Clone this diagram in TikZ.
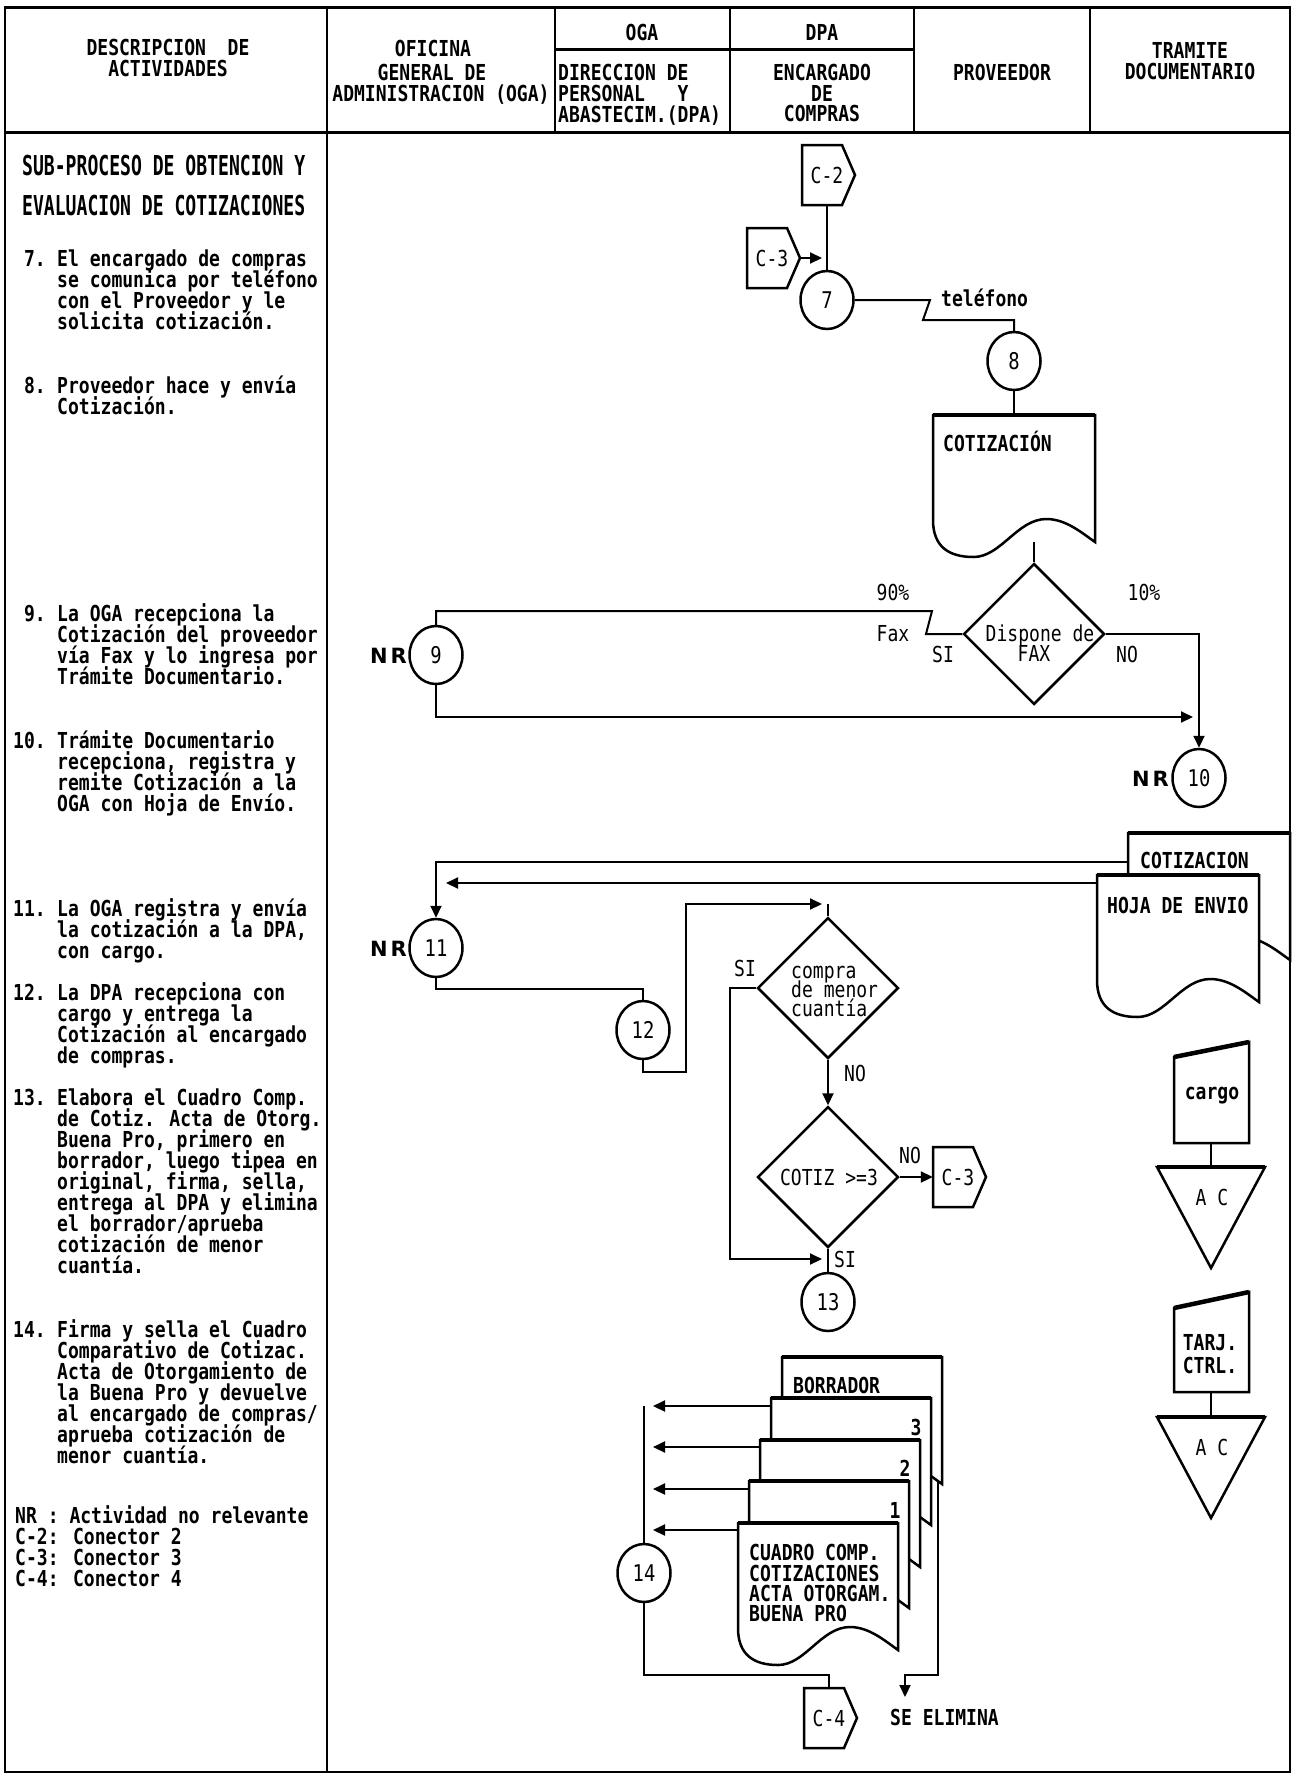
\documentclass[tikz,border=0pt]{standalone}
\usepackage{fontspec}
\usetikzlibrary{arrows.meta,shapes.geometric}
\newfontfamily\pf[FakeStretch=0.82]{DejaVu Sans Mono}
\newfontfamily\tf[FakeStretch=0.66]{DejaVu Sans Mono}
\newfontfamily\nrf{DejaVu Sans}
\tikzset{
  tbl/.style={line width=1.5pt},
  tblthick/.style={line width=3pt},
  conn/.style={line width=2pt},
  arr/.style={line width=2pt,-{Triangle[length=12pt,width=11pt]}},
  shp/.style={line width=2.5pt,fill=white},
  hd/.style={font=\pf\bfseries\fontsize{22}{22}\selectfont,inner sep=0pt},
  tx/.style={font=\pf\bfseries\fontsize{22}{22}\selectfont,inner sep=0pt},
  rg/.style={font=\pf\fontsize{22}{22}\selectfont,inner sep=0pt},
  ttl/.style={font=\tf\bfseries\fontsize{27.4}{30}\selectfont,inner sep=0pt},
  proc/.style={ellipse,draw,line width=2.5pt,fill=white,minimum width=53pt,minimum height=58pt,inner sep=0pt,font=\pf\fontsize{23}{23}\selectfont},
  dmd/.style={diamond,draw,line width=2.5pt,fill=white,minimum width=141pt,minimum height=141pt,inner sep=0pt,aspect=1},
  nrl/.style={font=\nrf\bfseries\fontsize{21}{21}\selectfont,inner sep=0pt},
}
\newcommand\descitem[4]{%
  \node[tx,anchor=base east] (#1) at (46,#2+8) {#3};
  \foreach \dline [count=\i from 0] in {#4}{%
    \node[tx,anchor=base west] (#1-\i) at (57,{#2+8+21*\i}) {\dline};
  }%
}
\newcommand\offpg[4]{%
  \filldraw[shp] (#2,#3) -- (#2+40,#3) -- (#2+53,#3+30) -- (#2+40,#3+60) -- (#2,#3+60) -- cycle;
  \node[rg,minimum width=50pt,minimum height=60pt] (#1) at (#2+25,#3+30) {#4};
  \coordinate (#1-tip) at (#2+53,#3+30);
}
\newcommand\docu[4]{%
  \filldraw[shp] (#2,#3) -- (#2,#3+105)
    .. controls (#2,#3+132) and (#2+0.1*#4,#3+142) .. (#2+0.25*#4,#3+142)
    .. controls (#2+0.42*#4,#3+142) and (#2+0.52*#4,#3+104) .. (#2+0.7*#4,#3+104)
    .. controls (#2+0.82*#4,#3+104) and (#2+0.92*#4,#3+118) .. (#2+#4,#3+127)
    -- (#2+#4,#3) -- cycle;
  \draw[line width=4.5pt] (#2,#3) -- (#2+#4,#3);
  \coordinate (#1-n) at (#2+0.5*#4,#3);
}
\begin{document}
\begin{tikzpicture}[x=1pt,y=-1pt]
\useasboundingbox (0,0) rectangle (1295,1775);
% ---------- table ----------
\draw[tbl] (5,7) rectangle (1290,1772);
\draw[tblthick] (5,7) -- (1290,7);
\draw[tblthick] (5,132) -- (1290,132);
\draw[tbl] (327,7) -- (327,1772);
\draw[tbl] (555,7) -- (555,132);
\draw[tbl] (730,7) -- (730,132);
\draw[tbl] (914,7) -- (914,132);
\draw[tbl] (1090,7) -- (1090,132);
\draw[tblthick] (555,49) -- (914,49);
% header texts
\node[hd,anchor=base] (h1a) at (168,55) {DESCRIPCION~~DE};
\node[hd,anchor=base] (h1b) at (168,76) {ACTIVIDADES};
\node[hd,anchor=base] (h2a) at (433,56) {OFICINA};
\node[hd,anchor=base] (h2b) at (432,80) {GENERAL DE};
\node[hd,anchor=base] (h2c) at (441,101) {ADMINISTRACION (OGA)};
\node[hd,anchor=base] (h3) at (642,40) {OGA};
\node[hd,anchor=base] (h4) at (822,40) {DPA};
\node[hd,anchor=base west] (h3a) at (558,80) {DIRECCION DE};
\node[hd,anchor=base west] (h3b) at (558,101) {PERSONAL~~~Y};
\node[hd,anchor=base west] (h3c) at (558,122) {ABASTECIM.(DPA)};
\node[hd,anchor=base] (h4a) at (822,80) {ENCARGADO};
\node[hd,anchor=base] (h4b) at (822,101) {DE};
\node[hd,anchor=base] (h4c) at (822,121) {COMPRAS};
\node[hd,anchor=base] (h5) at (1002,80) {PROVEEDOR};
\node[hd,anchor=base] (h6a) at (1190,58) {TRAMITE};
\node[hd,anchor=base] (h6b) at (1190,79) {DOCUMENTARIO};
% ---------- description column ----------
\node[ttl,anchor=base west] (ti1) at (22,175) {SUB-PROCESO DE OBTENCION Y};
\node[ttl,anchor=base west] (ti2) at (22,215) {EVALUACION DE COTIZACIONES};
\descitem{d7}{258}{7.}{El encargado de compras,se comunica por teléfono,con el Proveedor y le,solicita cotización.}
\descitem{d8}{385}{8.}{Proveedor hace y envía,Cotización.}
\descitem{d9}{613}{9.}{La OGA recepciona la,Cotización del proveedor,vía Fax y lo ingresa por,Trámite Documentario.}
\descitem{d10}{740}{10.}{Trámite Documentario,{recepciona, registra y},remite Cotización a la,OGA con Hoja de Envío.}
\descitem{d11}{908}{11.}{La OGA registra y envía,{la cotización a la DPA,},con cargo.}
\descitem{d12}{992}{12.}{La DPA recepciona con,cargo y entrega la,Cotización al encargado,de compras.}
\descitem{d13}{1097}{13.}{Elabora el Cuadro Comp.,de Cotiz. Acta de Otorg.,{Buena Pro, primero en},{borrador, luego tipea en},{original, firma, sella,},entrega al DPA y elimina,el borrador/aprueba,cotización de menor,cuantía.}
\descitem{d14}{1329}{14.}{Firma y sella el Cuadro,Comparativo de Cotizac.,Acta de Otorgamiento de,la Buena Pro y devuelve,al encargado de compras/,aprueba cotización de,menor cuantía.}
\node[tx,anchor=base west] (lg1) at (15,1523) {NR : Actividad no relevante};
\node[tx,anchor=base west] (lg2) at (15,1544) {C-2: Conector 2};
\node[tx,anchor=base west] (lg3) at (15,1565) {C-3: Conector 3};
\node[tx,anchor=base west] (lg4) at (15,1586) {C-4: Conector 4};
% ---------- flow: steps 7-8 ----------
\offpg{c2}{802}{145}{C-2}
\offpg{c3a}{747}{228}{C-3}
\node[proc] (p7) at (827,300) {7};
\draw[conn] (c2.south) -- (p7.north);
\coordinate (j7) at (822,258);
\draw[arr] (c3a-tip) -- (j7);
\node[proc] (p8) at (1014,361) {8};
\draw[conn] (p7.east) -- (930,300) -- (923,320) -| (p8.north);
\node[tx,anchor=base west] (tel) at (941,306) {teléfono};
\docu{dc1}{933}{415}{162}
\draw[conn] (p8.south) -- (dc1-n);
\node[tx,anchor=base west] (tcot) at (943,451) {COTIZACIÓN};
% ---------- step 9-10 ----------
\node[dmd] (dfax) at (1034,634) {};
\node[rg,anchor=base] (tdf1) at (1040,641) {Dispone de};
\node[rg,anchor=base] (tdf2) at (1034,661) {FAX};
\coordinate (dc1-out) at (1034,542);
\draw[conn] (dc1-out) -- (dfax.north);
\node[proc] (p9) at (436,655) {9};
\node[nrl,anchor=base east] (nr9) at (407,663) {N\kern3pt R};
\draw[conn] (dfax.west) -- (926,634) -- (932,611) -| (p9.north);
\node[rg,anchor=base] (l90) at (893,600) {90\%};
\node[rg,anchor=base] (lfax) at (893,641) {Fax};
\node[rg,anchor=base] (lsi1) at (943,662) {SI};
\node[rg,anchor=base] (lno1) at (1127,662) {NO};
\node[rg,anchor=base] (l10) at (1144,600) {10\%};
\node[proc] (p10) at (1199,778) {10};
\node[nrl,anchor=base east] (nr10) at (1169,786) {N\kern3pt R};
\draw[arr] (dfax.east) -| (p10.north);
\coordinate (a10) at (1193,717);
\draw[arr] (p9.south) |- (a10);
% ---------- step 10-11 documents ----------
\docu{cotb}{1128}{833}{162}
\node[tx,anchor=base west] (tcotb) at (1140,868) {COTIZACION};
\docu{hoja}{1097}{875}{162}
\node[tx,anchor=base west] (thoja) at (1107,913) {HOJA DE ENVIO};
\coordinate (cotb-out) at (1128,862);
\coordinate (hoja-out) at (1097,883);
\coordinate (a11) at (446,883);
\node[proc] (p11) at (436,948) {11};
\node[nrl,anchor=base east] (nr11) at (407,956) {N\kern3pt R};
\draw[arr] (cotb-out) -| (p11.north);
\draw[arr] (hoja-out) -- (a11);
% ---------- step 12-13 ----------
\node[proc] (p12) at (643,1030) {12};
\draw[conn] (p11.south) -- (436,989) -| (p12.north);
\coordinate (a12) at (822,904);
\coordinate (j12) at (828,904);
\draw[arr] (p12.south) -- (643,1072) -- (686,1072) -- (686,904) -- (a12);
\node[dmd] (dmc) at (828,988) {};
\draw[conn] (j12) -- (dmc.north);
\node[rg,anchor=base west] (tm1) at (791,978) {compra};
\node[rg,anchor=base west] (tm2) at (791,997) {de menor};
\node[rg,anchor=base west] (tm3) at (791,1016) {cuantía};
\node[rg,anchor=base] (lsi2) at (745,976) {SI};
\node[rg,anchor=base] (lno2) at (855,1081) {NO};
\node[dmd] (dcz) at (828,1177) {};
\draw[arr] (dmc.south) -- (dcz.north);
\node[rg,anchor=base] (tcz) at (829,1185) {COTIZ >=3};
\offpg{c3b}{933}{1147}{C-3}
\draw[arr] (dcz.east) -- (c3b.west);
\node[rg,anchor=base] (lno3) at (910,1163) {NO};
\coordinate (k13) at (730,1259);
\coordinate (a13) at (822,1259);
\draw[arr] (dmc.west) -| (k13) -- (a13);
\node[rg,anchor=base] (lsi3) at (845,1267) {SI};
\node[proc] (p13) at (828,1302) {13};
\draw[conn] (dcz.south) -- (p13.north);
% ---------- step 14 ----------
\docu{bor}{782}{1357}{160}
\node[tx,anchor=base west] (tbor) at (793,1393) {BORRADOR};
\docu{dd3}{771}{1398}{160}
\node[tx,anchor=base] (t3) at (916,1435) {3};
\docu{dd2}{760}{1440}{160}
\node[tx,anchor=base] (t2) at (905,1476) {2};
\docu{dd1}{749}{1481}{160}
\node[tx,anchor=base] (t1) at (895,1518) {1};
\docu{dd0}{738}{1523}{160}
\node[tx,anchor=base west] (tc1) at (749,1560) {CUADRO COMP.};
\node[tx,anchor=base west] (tc2) at (749,1581) {COTIZACIONES};
\node[tx,anchor=base west] (tc3) at (749,1601) {ACTA OTORGAM.};
\node[tx,anchor=base west] (tc4) at (749,1621) {BUENA PRO};
\node[proc] (p14) at (644,1573) {14};
\coordinate (k14) at (644,1406);
\draw[conn] (p14.north) -- (k14);
\coordinate (o3) at (771,1406);  \coordinate (e3) at (653,1406);
\coordinate (o2) at (760,1447);  \coordinate (e2) at (653,1447);
\coordinate (o1) at (749,1489);  \coordinate (e1) at (653,1489);
\coordinate (o0) at (738,1530);  \coordinate (e0) at (653,1530);
\draw[arr] (o3) -- (e3);
\draw[arr] (o2) -- (e2);
\draw[arr] (o1) -- (e1);
\draw[arr] (o0) -- (e0);
\offpg{c4}{804}{1688}{C-4}
\coordinate (k14b) at (644,1675);
\draw[conn] (p14.south) -- (k14b) -| (c4.north);
\coordinate (bor-o) at (938,1482);
\coordinate (kse) at (938,1675);
\coordinate (ase) at (905,1697);
\draw[arr] (bor-o) -- (kse) -| (ase);
\node[tx,anchor=base west] (tse) at (890,1725) {SE ELIMINA};
% ---------- archive column ----------
\filldraw[shp] (1174,1057) -- (1249,1042) -- (1249,1143) -- (1174,1143) -- cycle;
\draw[line width=4.5pt] (1174,1057) -- (1249,1042);
\node[tx,anchor=base] (tcg) at (1212,1099) {cargo};
\coordinate (cg-s) at (1211,1143);
\filldraw[shp] (1157,1167) -- (1265,1167) -- (1211,1268) -- cycle;
\draw[line width=4.5pt] (1157,1167) -- (1265,1167);
\coordinate (tr1-n) at (1211,1167);
\draw[conn] (cg-s) -- (tr1-n);
\node[rg,anchor=base] (tac1) at (1212,1205) {A C};
\filldraw[shp] (1174,1308) -- (1249,1292) -- (1249,1392) -- (1174,1392) -- cycle;
\draw[line width=4.5pt] (1174,1308) -- (1249,1292);
\node[tx,anchor=base] (ttj1) at (1210,1350) {TARJ.};
\node[tx,anchor=base] (ttj2) at (1210,1373) {CTRL.};
\coordinate (tj-s) at (1211,1392);
\filldraw[shp] (1157,1417) -- (1265,1417) -- (1211,1518) -- cycle;
\draw[line width=4.5pt] (1157,1417) -- (1265,1417);
\coordinate (tr2-n) at (1211,1417);
\draw[conn] (tj-s) -- (tr2-n);
\node[rg,anchor=base] (tac2) at (1212,1455) {A C};
\end{tikzpicture}
\end{document}
